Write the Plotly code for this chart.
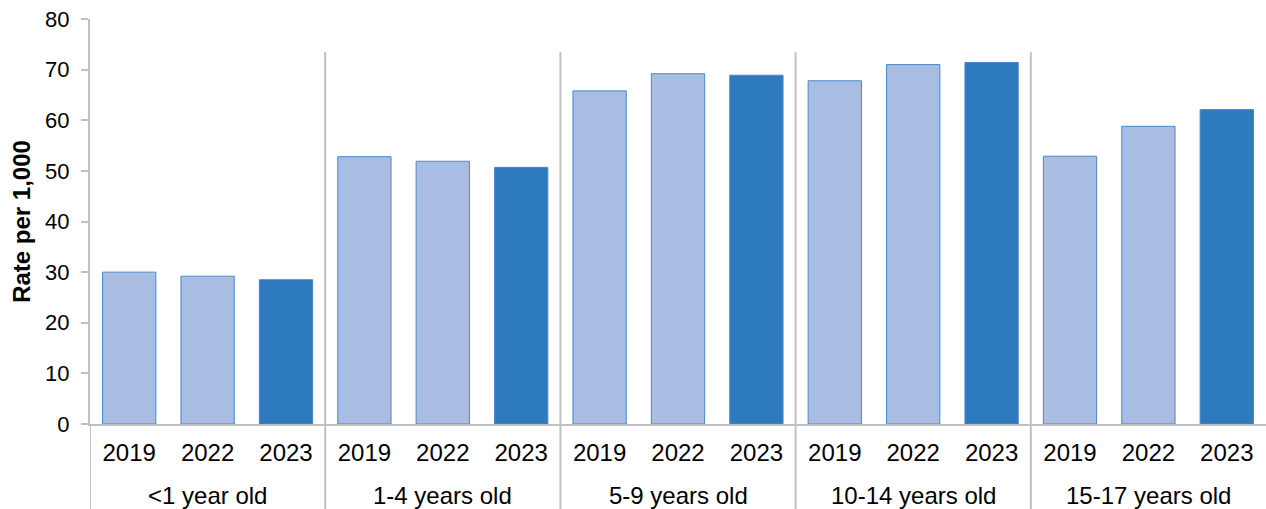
import plotly.graph_objects as go

# Age bands and the years reported for each band
age_groups = ["<1 year old", "1-4 years old", "5-9 years old", "10-14 years old", "15-17 years old"]
years = ["2019", "2022", "2023"]

# Rate per 1,000 children, one list per age band (2019, 2022, 2023)
rate_lt1 = [30.0, 29.2, 28.5]
rate_1_4 = [52.8, 51.9, 50.7]
rate_5_9 = [65.8, 69.2, 68.9]
rate_10_14 = [67.8, 71.0, 71.4]
rate_15_17 = [52.9, 58.8, 62.1]

y_ticks = [0, 10, 20, 30, 40, 50, 60, 70, 80]

rates = [rate_lt1, rate_1_4, rate_5_9, rate_10_14, rate_15_17]

LIGHT = "#A9BCE2"
DARK = "#2E7ABF"
EDGE = "#4A88CC"
GRID = "#C0C0C0"
FAMILY = "Liberation Sans, Arial, sans-serif"

W, H = 1266, 509
M_L, M_R, M_T, M_B = 90, 0, 19, 85
plot_h = H - M_T - M_B

n = len(years)
x_pos, x_text, y_vals, colors = [], [], [], []
for g, vals in enumerate(rates):
    for j, (yr, v) in enumerate(zip(years, vals)):
        x_pos.append(g * n + j)
        x_text.append(yr)
        y_vals.append(v)
        colors.append(DARK if yr == years[-1] else LIGHT)

hover = [f"{age_groups[p // n]} {t}" for p, t in zip(x_pos, x_text)]

fig = go.Figure(
    go.Bar(
        x=x_pos,
        y=y_vals,
        width=0.68,
        customdata=hover,
        marker=dict(color=colors, line=dict(color=EDGE, width=1)),
        hovertemplate="%{customdata}: %{y}<extra></extra>",
    )
)

# Separators between age bands: a short line inside the plot and a line
# running down through the category labels
below = -M_B / plot_h
for i in range(len(age_groups)):
    pos = i * n - 0.5
    if i > 0:
        fig.add_shape(
            type="line", xref="x", yref="y",
            x0=pos, x1=pos, y0=0, y1=73.5,
            line=dict(color=GRID, width=2), layer="below",
        )
    fig.add_shape(
        type="line", xref="x", yref="paper",
        x0=pos, x1=pos, y0=below, y1=0,
        line=dict(color=GRID, width=2), layer="below",
    )

# Age band labels under the year labels
for g, name in enumerate(age_groups):
    fig.add_annotation(
        x=g * n + (n - 1) / 2, y=0, xref="x", yref="paper",
        text=name, showarrow=False,
        yanchor="middle", yshift=-71,
        font=dict(family=FAMILY, size=24, color="#000000"),
    )

fig.update_layout(
    width=W, height=H,
    margin=dict(l=M_L, r=M_R, t=M_T, b=M_B),
    paper_bgcolor="white", plot_bgcolor="white",
    font=dict(family=FAMILY, size=22, color="#000000"),
    showlegend=False,
)
fig.update_xaxes(
    range=[-0.5, len(x_pos) - 0.5],
    tickvals=x_pos, ticktext=x_text,
    showline=True, linecolor=GRID, linewidth=2,
    showgrid=False, zeroline=False, ticks="",
    ticklabelstandoff=6,
    tickfont=dict(family=FAMILY, size=24, color="#000000"),
)
fig.update_yaxes(
    range=[0, 80], tickvals=y_ticks,
    showline=True, linecolor=GRID, linewidth=2,
    showgrid=False, zeroline=False,
    ticks="outside", ticklen=7, tickcolor=GRID, tickwidth=2,
    ticklabelstandoff=7,
    tickfont=dict(family=FAMILY, size=22, color="#000000"),
    title=dict(text="<b>Rate per 1,000</b>",
               font=dict(family=FAMILY, size=24, color="#000000"), standoff=8),
)

fig.write_html("out.html")
